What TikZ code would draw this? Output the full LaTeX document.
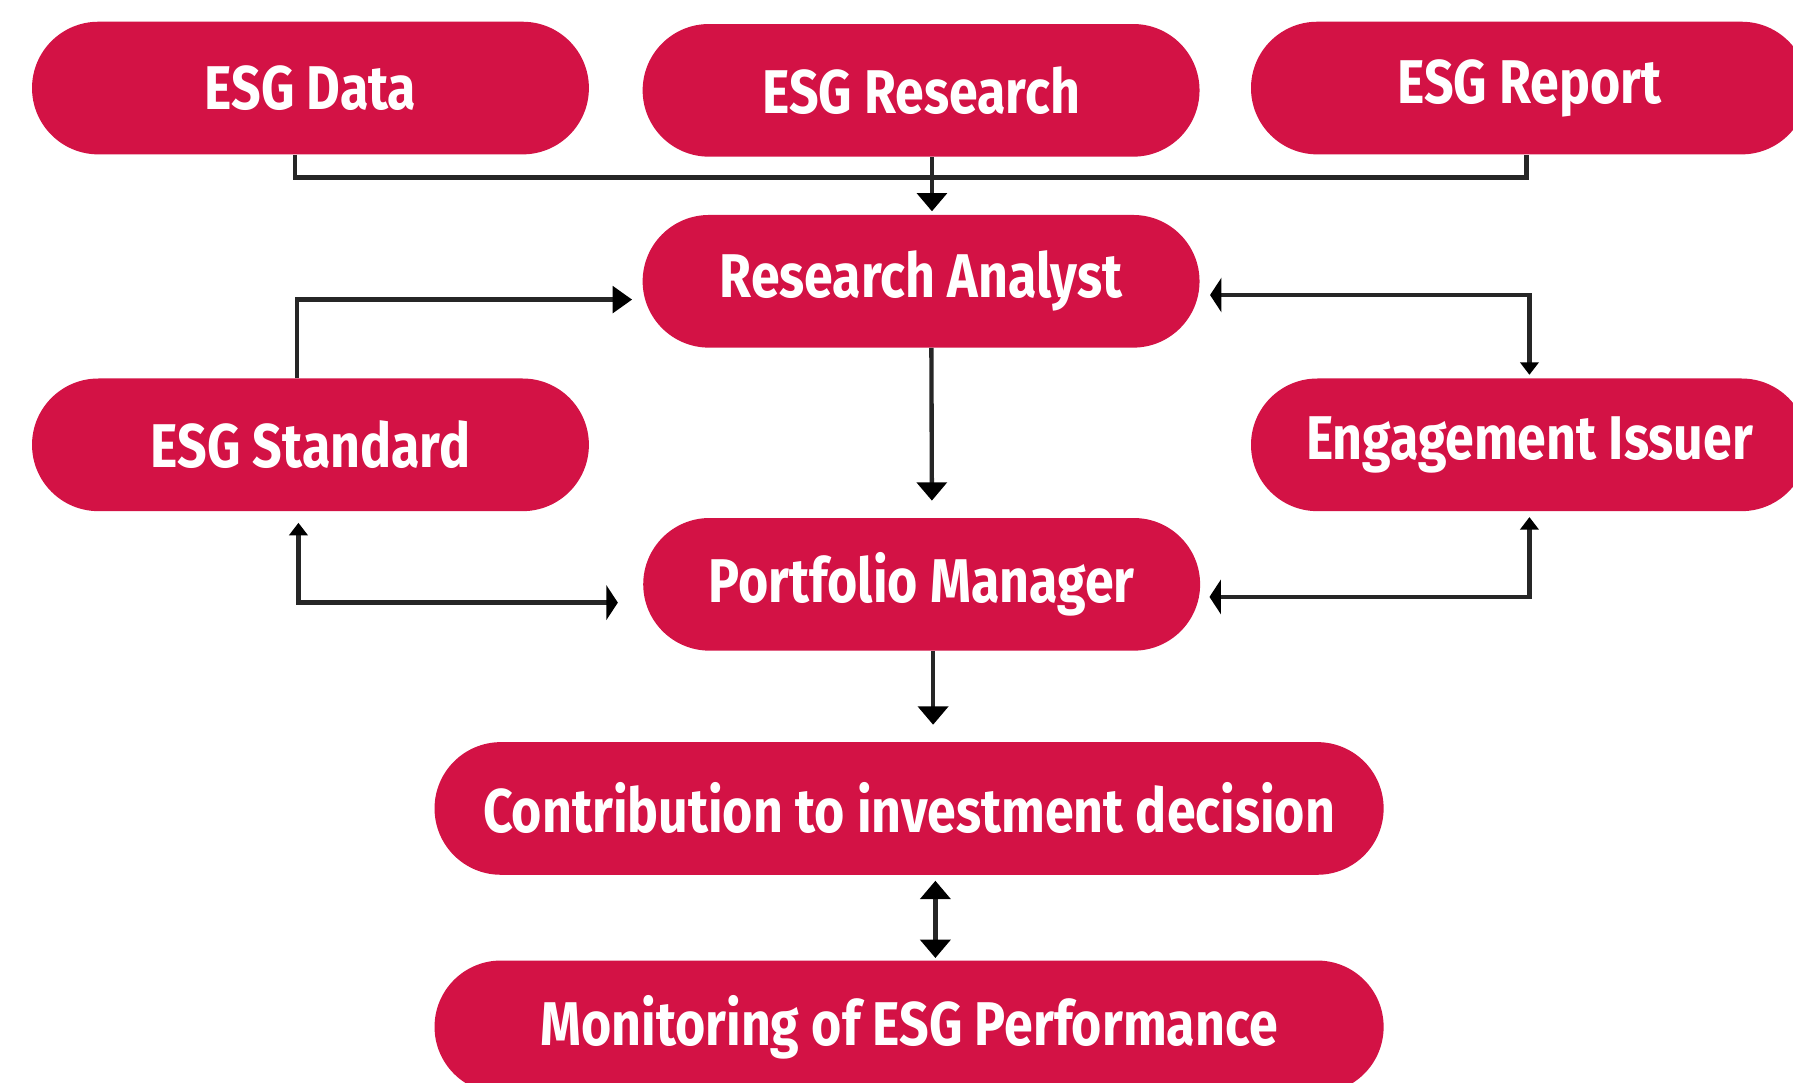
\documentclass[tikz,border=0pt]{standalone}
\usepackage{fontspec}
\setmainfont{Fira Sans}[FakeStretch=0.84]
\usetikzlibrary{arrows.meta}
\definecolor{esgred}{HTML}{D31245}
\definecolor{linegray}{HTML}{262626}
\tikzset{
  pill/.style={rectangle, rounded corners=58pt, fill=esgred, text=white,
    minimum height=116pt, inner sep=0pt, font=\fontsize{54}{60}\selectfont\bfseries},
  pillS/.style={pill, minimum width=487pt},
  pillL/.style={pill, minimum width=830pt},
  conn/.style={draw=linegray, line width=3.8pt},
  smalltip/.tip={Triangle[length=11pt,width=16pt,color=black]},
  thintip/.tip={Triangle[length=10pt,width=30pt,color=black]},
  midtip/.tip={Triangle[length=16pt,width=26pt,color=black]},
}
\begin{document}
\begin{tikzpicture}[x=1pt,y=-1pt]
\useasboundingbox (0,0) rectangle (1568,947);
\node[pillS] (data) at (271.5,77) {ESG Data};
\node[pillS] (research) at (805.5,79) {ESG Research};
\node[pillS] (report) at (1337.5,77) {ESG Report};
\node[pillS] (analyst) at (805.5,246) {Research Analyst};
\node[pillS] (std) at (271.5,389) {ESG Standard};
\node[pillS] (engage) at (1337.5,389) {Engagement Issuer};
\node[pillS] (pm) at (806,511) {Portfolio Manager};
\node[pillL] (contrib) at (795,707) {Contribution to investment decision};
\node[pillL] (monitor) at (795,898) {Monitoring of ESG Performance};
% top merge
\draw[conn] ([xshift=-13.5pt]data.south) -- ++(0,20) -| ([xshift=-2.5pt]report.south);
\draw[conn,-{midtip}, shorten >=3pt] ([xshift=9.5pt]research.south) -- ([xshift=9.5pt]analyst.north);
% analyst -> pm
\draw[conn,-{midtip}, shorten >=15pt] ([xshift=9pt]analyst.south) -- ([xshift=9pt]pm.north);
% standard -> analyst
\draw[conn,-{Triangle[length=17pt,width=23pt,color=black]}, shorten >=9pt] ([xshift=-11.5pt]std.north) |- ([yshift=-16pt]analyst.west);
% analyst <-> engagement
\draw[conn,{thintip}-{smalltip}, shorten <=9pt, shorten >=3pt] ([yshift=-12pt]analyst.east) -| (engage.north);
% standard <-> pm
\draw[conn,{smalltip}-{thintip}, shorten <=10pt, shorten >=22pt] ([xshift=-10.5pt]std.south) |- ([yshift=-16pt]pm.west);
% pm <-> engagement
\draw[conn,{thintip}-{smalltip}, shorten <=8pt, shorten >=5pt] ([yshift=-11pt]pm.east) -| (engage.south);
% pm -> contribution
\draw[conn,-{midtip}, shorten >=15pt] ([xshift=10pt]pm.south) -- ([xshift=21pt]contrib.north);
% contribution <-> monitoring
\draw[conn,{midtip}-{midtip}, shorten <=5pt, shorten >=2pt] ([xshift=23pt]contrib.south) -- ([xshift=23pt]monitor.north);
\end{tikzpicture}
\end{document}
